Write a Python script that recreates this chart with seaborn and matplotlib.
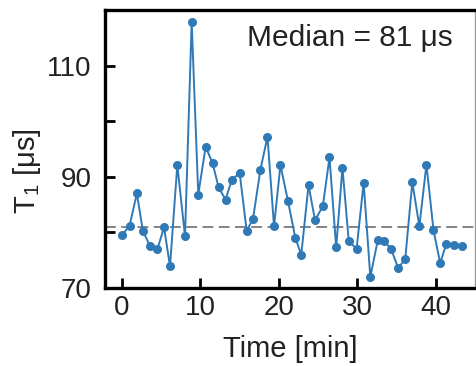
import numpy as np
import pandas as pd
import matplotlib
matplotlib.use("Agg")
import matplotlib.pyplot as plt
import seaborn as sns

time_min = [0.0, 0.97, 1.91, 2.67, 3.59, 4.52, 5.37, 6.13, 7.06, 8.04,
            8.89, 9.73, 10.67, 11.56, 12.32, 13.2, 14.0, 15.0, 15.9, 16.7,
            17.65, 18.55, 19.38, 20.2, 21.15, 22.1, 22.85, 23.78, 24.6, 25.6,
            26.45, 27.3, 28.1, 28.9, 29.9, 30.8, 31.65, 32.6, 33.44, 34.3,
            35.2, 36.1, 37.0, 37.9, 38.8, 39.7, 40.55, 41.35, 42.25, 43.3]
t1_us = [79.5, 81.2, 87.0, 80.3, 77.5, 77.0, 80.9, 73.9, 92.1, 79.3,
         117.8, 86.8, 95.4, 92.4, 88.1, 85.9, 89.4, 90.7, 80.3, 82.4,
         91.3, 97.2, 81.1, 92.1, 85.7, 79.0, 76.0, 88.5, 82.2, 84.7,
         93.5, 77.3, 91.6, 78.5, 77.0, 88.9, 72.0, 78.6, 78.4, 77.0,
         73.6, 75.2, 89.0, 81.1, 92.2, 80.4, 74.5, 78.0, 77.7, 77.6]
median_value = 81
annotation = "Median = 81 μs"

df = pd.DataFrame({"time": time_min, "t1": t1_us})

sns.set_theme(style="ticks")
plt.rcParams["font.family"] = ["Liberation Sans", "DejaVu Sans"]
plt.rcParams["mathtext.fontset"] = "custom"
plt.rcParams["mathtext.rm"] = "Liberation Sans"
plt.rcParams["mathtext.it"] = "Liberation Sans"

fig = plt.figure(figsize=(4.77, 3.66), dpi=100)
ax = fig.add_axes([0.221, 0.213, 0.775, 0.760])

color = "#2f79b7"
sns.lineplot(data=df, x="time", y="t1", ax=ax, color=color, marker="o",
             markersize=6.5, markeredgewidth=0, linewidth=1.4)
ax.axhline(median_value, color="#7a7a7a", linestyle=(0, (6, 3)), linewidth=1.3, zorder=0)

ax.set_xlim(-2.1, 45)
ax.set_ylim(70, 120)
ax.set_xticks([0, 10, 20, 30, 40])
ax.set_yticks([70, 90, 110])
ax.set_yticks([80, 100], minor=True)
ax.tick_params(axis="both", which="both", direction="in", length=7, width=2,
               labelsize=20, color="black", labelcolor="#222222")
ax.tick_params(axis="y", which="both", pad=10)
ax.tick_params(axis="x", which="both", pad=5)
ax.tick_params(axis="x", which="minor", bottom=False)

for side in ["left", "top", "bottom"]:
    ax.spines[side].set_linewidth(2.4)
    ax.spines[side].set_color("black")
ax.spines["right"].set_visible(True)
ax.spines["right"].set_linewidth(1.0)
ax.spines["right"].set_color("#9a9a9a")

ax.set_xlabel("Time [min]", fontsize=21, labelpad=10, color="#222222")
ax.set_ylabel("T$_1$ [μs]", fontsize=21, color="#222222")
ax.yaxis.set_label_coords(-0.17, 0.42)
ax.text(0.94, 0.90, annotation, transform=ax.transAxes, ha="right", va="center",
        fontsize=21.5, color="#222222")

fig.savefig("out.png", dpi=100)
